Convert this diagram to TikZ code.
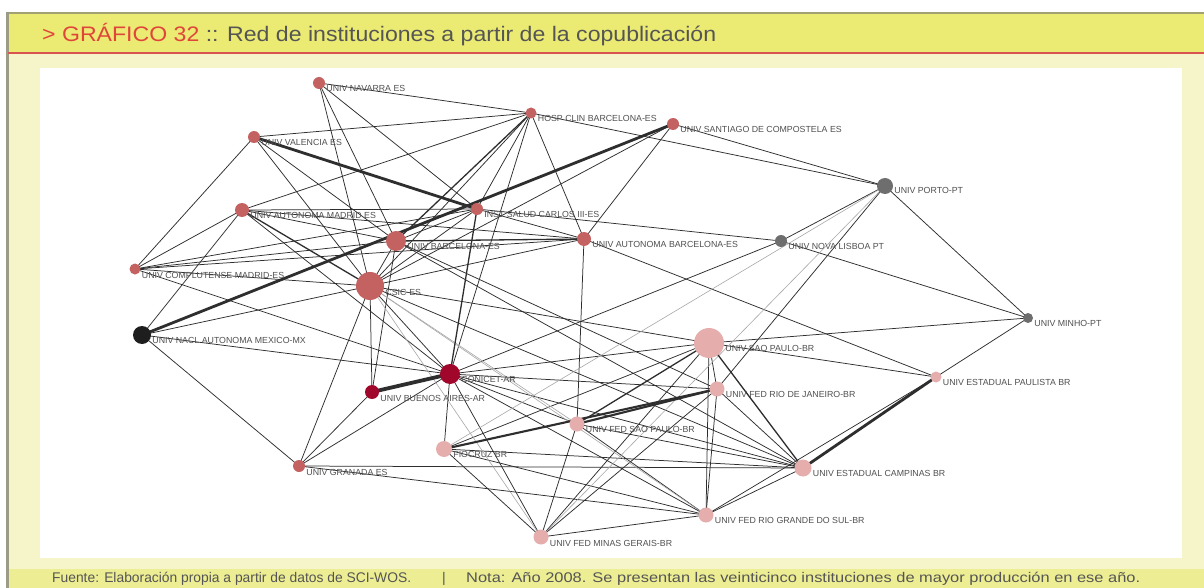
\documentclass[tikz,border=0pt]{standalone}
\usepackage{fontspec}
\usepackage{graphicx}
\setmainfont{Liberation Sans}
\newfontfamily\labfont{Liberation Sans}
\usetikzlibrary{calc}
\pgfdeclarelayer{back}
\pgfdeclarelayer{edges}
\pgfsetlayers{back,edges,main}
\definecolor{hdr}{HTML}{EBEA73}
\definecolor{bodyc}{HTML}{F5F5C9}
\definecolor{ftr}{HTML}{EDED94}
\definecolor{brd}{HTML}{A3A171}
\definecolor{lbrd}{HTML}{9C9C86}
\definecolor{redline}{HTML}{D9534F}
\definecolor{redtxt}{HTML}{E0453A}
\definecolor{hdrtxt}{HTML}{555555}
\definecolor{es}{HTML}{C46262}
\definecolor{pt}{HTML}{6E6E6E}
\definecolor{mx}{HTML}{1E1E1E}
\definecolor{ar}{HTML}{A0072B}
\definecolor{br}{HTML}{E6ADAD}
\definecolor{edgec}{HTML}{2E2E2E}
\definecolor{ledge}{HTML}{A8A8A8}
\definecolor{labc}{HTML}{505050}
\newlength\mywd
\newcommand{\fitw}[2]{\settowidth{\mywd}{#2}\scalebox{\fpeval{#1pt/\the\mywd}}[1]{#2}}
\tikzset{
  nd/.style={circle, inner sep=0pt, draw=none},
  lab/.style={font=\labfont\fontsize{8.8}{9}\selectfont, text=labc, anchor=west, inner sep=0pt},
  e/.style={draw=edgec, line width=0.75pt},
  el/.style={draw=ledge, line width=0.6pt},
  eb/.style={draw=edgec, line width=1.3pt},
  ebb/.style={draw=edgec, line width=2.1pt},
  ethick/.style={draw=edgec, line width=2.8pt},
  ethickest/.style={draw=edgec, line width=3.8pt},
}
\begin{document}
\begin{tikzpicture}[x=1pt,y=-1pt]
\useasboundingbox (0,0) rectangle (1204,588);
\begin{pgfonlayer}{back}
\fill[white] (0,0) rectangle (1204,588);
\fill[bodyc] (7,12) rectangle (1204,588);
\fill[hdr] (7,12) rectangle (1204,53);
\fill[ftr] (7,569) rectangle (1204,588);
\draw[brd, line width=2pt] (7,13) -- (1204,13);
\draw[lbrd, line width=2.5pt] (7.5,12) -- (7.5,588);
\draw[redline, line width=1.2pt] (8,53) -- (1204,53);
\fill[white] (40,68) rectangle (1182,558);
\end{pgfonlayer}

% header and footer
\node[anchor=base west, inner sep=0pt, font=\fontsize{21}{21}\selectfont, text=hdrtxt] (title) at (42,42)
  {\fitw{674}{\textcolor{redtxt}{> GRÁFICO 32} :: Red de instituciones a partir de la copublicación}};
\node[anchor=base west, inner sep=0pt, font=\fontsize{14}{14}\selectfont, text=hdrtxt] (fuente) at (52,582)
  {\fitw{359}{Fuente: Elaboración propia a partir de datos de SCI-WOS.}};
\node[anchor=base, inner sep=0pt, font=\fontsize{14}{14}\selectfont, text=hdrtxt] (sep) at (444,582) {|};
\node[anchor=base west, inner sep=0pt, font=\fontsize{14}{14}\selectfont, text=hdrtxt] (nota) at (466,582)
  {\fitw{674}{Nota: Año 2008. Se presentan las veinticinco instituciones de mayor producción en ese año.}};

% nodes
\node[nd, fill=es, minimum size=12] (nav) at (319,83) {};
\node[nd, fill=es, minimum size=11] (hcb) at (531,113) {};
\node[nd, fill=es, minimum size=12] (usc) at (673,124) {};
\node[nd, fill=es, minimum size=12] (uva) at (254,137) {};
\node[nd, fill=pt, minimum size=16] (upo) at (885,186) {};
\node[nd, fill=es, minimum size=14] (uam) at (242,210) {};
\node[nd, fill=es, minimum size=12] (isc) at (477,209) {};
\node[nd, fill=es, minimum size=20] (ub) at (396,241) {};
\node[nd, fill=es, minimum size=14] (uab) at (584,239) {};
\node[nd, fill=pt, minimum size=12] (unl) at (781,241) {};
\node[nd, fill=es, minimum size=11] (ucm) at (135,269) {};
\node[nd, fill=es, minimum size=28] (csic) at (370,286) {};
\node[nd, fill=mx, minimum size=18] (unam) at (142,335) {};
\node[nd, fill=pt, minimum size=10] (umi) at (1028,318) {};
\node[nd, fill=br, minimum size=30] (usp) at (709,343) {};
\node[nd, fill=ar, minimum size=20] (con) at (450,374) {};
\node[nd, fill=ar, minimum size=14] (uba) at (372,392) {};
\node[nd, fill=br, minimum size=15] (ufrj) at (717,389) {};
\node[nd, fill=br, minimum size=11] (uep) at (936,377) {};
\node[nd, fill=br, minimum size=15] (ufsp) at (577,424) {};
\node[nd, fill=br, minimum size=16] (fio) at (444,449) {};
\node[nd, fill=es, minimum size=12] (ugr) at (299,466) {};
\node[nd, fill=br, minimum size=17] (uec) at (803,468) {};
\node[nd, fill=br, minimum size=15] (ufrgs) at (706,515) {};
\node[nd, fill=br, minimum size=15] (ufmg) at (541,537) {};

% edges (drawn beneath the nodes)
\begin{pgfonlayer}{edges}
\foreach \a/\b in {nav/hcb, nav/csic, nav/ub, nav/isc,
  uva/hcb, uva/ub, uva/csic, uva/ucm,
  uam/hcb, uam/isc, uam/ub, uam/con, uam/ucm, uam/unam, uam/uab,
  hcb/isc, hcb/csic, hcb/uab, hcb/upo, hcb/con,
  usc/csic, usc/uab, usc/upo,
  isc/ub, isc/uab, isc/unl, isc/csic, isc/ucm,
  ub/csic, ub/uba, ub/ufrj, ub/ucm, ub/uec,
  uab/csic, uab/ufsp, uab/ucm, uab/uep,
  unl/upo, unl/umi, unl/con,
  upo/ufrj, upo/umi,
  ucm/csic, ucm/con,
  csic/unam, csic/uba, csic/ugr, csic/con, csic/usp, csic/uec,
  unam/con, unam/ugr,
  umi/usp, umi/uep,
  usp/uep, usp/ufrj, usp/ufrgs, usp/fio, usp/ufmg, usp/con,
  con/fio, con/ufmg, con/ufrj, con/ugr, con/ufsp, con/ufrgs, con/uec,
  uba/ugr,
  ufrj/uec, ufrj/ufrgs, ufrj/ufmg,
  ufsp/uec, ufsp/ufrgs, ufsp/ufmg,
  fio/ufmg, fio/ufrgs, fio/uec,
  ugr/uec, ugr/ufrgs,
  uec/ufrgs, ufrgs/ufmg, ufrgs/uep}
  \draw[e] (\a.center) -- (\b.center);
\foreach \a/\b in {upo/ufmg, csic/ufsp, csic/ufrgs, fio/upo, csic/ufmg}
  \draw[el] (\a.center) -- (\b.center);
\foreach \a/\b in {hcb/ub, uam/csic, usp/uec, usp/ufsp, ub/uab, con/isc}
  \draw[eb] (\a.center) -- (\b.center);
\foreach \a/\b in {ufsp/ufrj, fio/ufrj}
  \draw[ebb] (\a.center) -- (\b.center);
\foreach \a/\b in {unam/usc, uva/isc, uec/uep}
  \draw[ethick] (\a.center) -- (\b.center);
\draw[ethickest] (con.center) -- (uba.center);
\end{pgfonlayer}

% labels
\node[lab] (lnav) at ([shift={(1,5)}]nav.east) {UNIV NAVARRA ES};
\node[lab] (lhcb) at ([shift={(1,5)}]hcb.east) {HOSP CLIN BARCELONA-ES};
\node[lab] (lusc) at ([shift={(1,5)}]usc.east) {UNIV SANTIAGO DE COMPOSTELA ES};
\node[lab] (luva) at ([shift={(1,5)}]uva.east) {UNIV VALENCIA ES};
\node[lab] (lupo) at ([shift={(1,4)}]upo.east) {UNIV PORTO-PT};
\node[lab] (luam) at ([shift={(1,5)}]uam.east) {UNIV AUTONOMA MADRID ES};
\node[lab] (lisc) at ([shift={(1,5)}]isc.east) {INST SALUD CARLOS III-ES};
\node[lab] (lub) at ([shift={(1,5)}]ub.east) {UNIV BARCELONA-ES};
\node[lab] (luab) at ([shift={(1,5)}]uab.east) {UNIV AUTONOMA BARCELONA-ES};
\node[lab] (lunl) at ([shift={(1,5)}]unl.east) {UNIV NOVA LISBOA PT};
\node[lab] (lucm) at ([shift={(1,6)}]ucm.east) {UNIV COMPLUTENSE MADRID-ES};
\node[lab] (lcsic) at ([shift={(1,6)}]csic.east) {CSIC-ES};
\node[lab] (lunam) at ([shift={(1,5)}]unam.east) {UNIV NACL AUTONOMA MEXICO-MX};
\node[lab] (lumi) at ([shift={(1,5)}]umi.east) {UNIV MINHO-PT};
\node[lab] (lusp) at ([shift={(1,5)}]usp.east) {UNIV SAO PAULO-BR};
\node[lab] (lcon) at ([shift={(1,5)}]con.east) {CONICET-AR};
\node[lab] (luba) at ([shift={(1,6)}]uba.east) {UNIV BUENOS AIRES-AR};
\node[lab] (lufrj) at ([shift={(1,5)}]ufrj.east) {UNIV FED RIO DE JANEIRO-BR};
\node[lab] (luep) at ([shift={(1,5)}]uep.east) {UNIV ESTADUAL PAULISTA BR};
\node[lab] (lufsp) at ([shift={(1,5)}]ufsp.east) {UNIV FED SAO PAULO-BR};
\node[lab] (lfio) at ([shift={(1,5)}]fio.east) {FIOCRUZ BR};
\node[lab] (lugr) at ([shift={(1,6)}]ugr.east) {UNIV GRANADA ES};
\node[lab] (luec) at ([shift={(1,5)}]uec.east) {UNIV ESTADUAL CAMPINAS BR};
\node[lab] (lufrgs) at ([shift={(1,5)}]ufrgs.east) {UNIV FED RIO GRANDE DO SUL-BR};
\node[lab] (lufmg) at ([shift={(1,6)}]ufmg.east) {UNIV FED MINAS GERAIS-BR};
\end{tikzpicture}
\end{document}
